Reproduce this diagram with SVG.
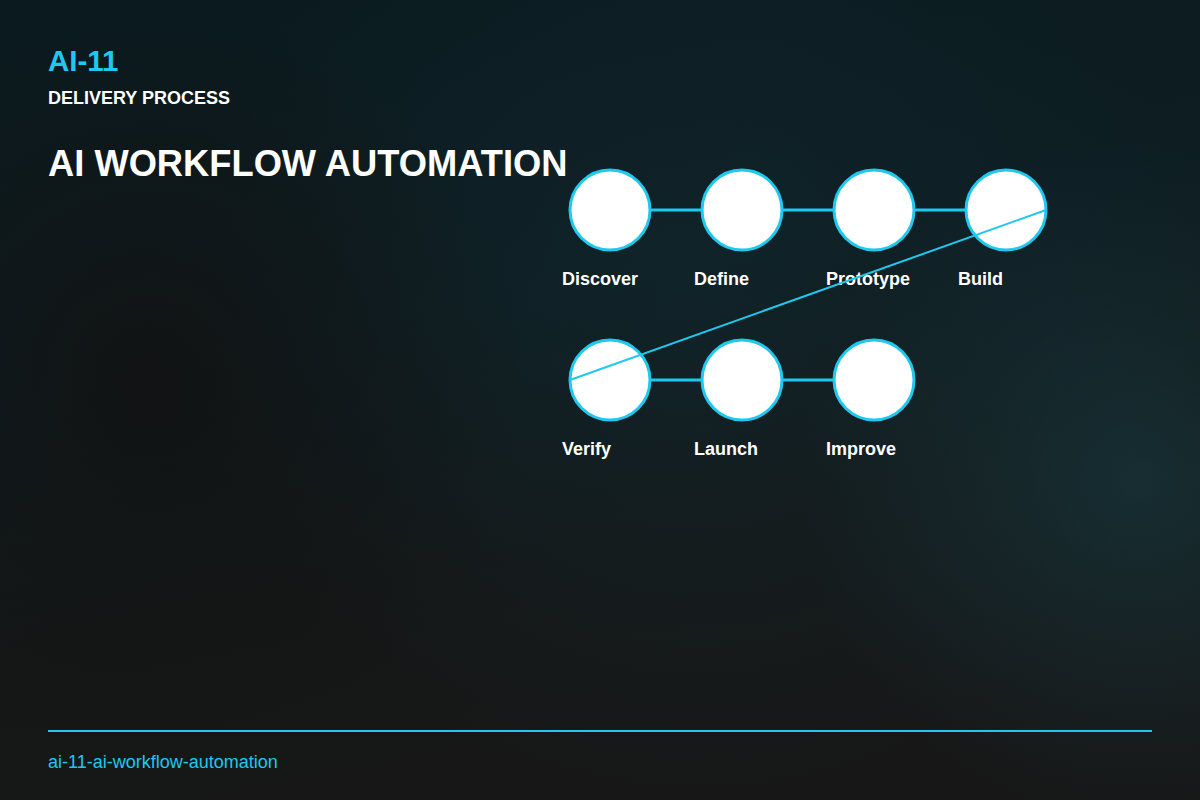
<svg xmlns="http://www.w3.org/2000/svg" width="1200" height="800" viewBox="0 0 1200 800">
<defs>
<linearGradient id="bg" x1="0" y1="0" x2="0.3" y2="1">
<stop offset="0" stop-color="#0a1a1f"/>
<stop offset="0.45" stop-color="#0d1d22"/>
<stop offset="0.75" stop-color="#151717"/>
<stop offset="1" stop-color="#171717"/>
</linearGradient>
<radialGradient id="glow1" cx="1140" cy="480" r="340" gradientUnits="userSpaceOnUse">
<stop offset="0" stop-color="#173c44" stop-opacity="0.6"/>
<stop offset="1" stop-color="#173c44" stop-opacity="0"/>
</radialGradient>
<radialGradient id="glow2" cx="700" cy="300" r="500" gradientUnits="userSpaceOnUse">
<stop offset="0" stop-color="#12282e" stop-opacity="0.6"/>
<stop offset="1" stop-color="#12282e" stop-opacity="0"/>
</radialGradient>
<radialGradient id="dark1" cx="150" cy="380" r="380" gradientUnits="userSpaceOnUse">
<stop offset="0" stop-color="#121212" stop-opacity="0.9"/>
<stop offset="1" stop-color="#121212" stop-opacity="0"/>
</radialGradient>
<style>
.node circle{fill:#ffffff;stroke:#1ec8ee;stroke-width:3}
.lbl{font-family:"Liberation Sans",Arial,sans-serif;font-weight:bold;font-size:18px;fill:#ffffff}
.conn line{stroke:#1ec8ee;stroke-width:3}
</style>
</defs>
<rect width="1200" height="800" fill="url(#bg)"/>
<rect width="1200" height="800" fill="url(#glow2)"/>
<rect width="1200" height="800" fill="url(#glow1)"/>
<rect width="1200" height="800" fill="url(#dark1)"/>

<text x="48" y="71" font-family="Liberation Sans,Arial,sans-serif" font-weight="bold" font-size="29.5" fill="#1ec8ee">AI-11</text>
<text x="48" y="104" font-family="Liberation Sans,Arial,sans-serif" font-weight="bold" font-size="18" fill="#ffffff">DELIVERY PROCESS</text>
<text x="48" y="176" font-family="Liberation Sans,Arial,sans-serif" font-weight="bold" font-size="36.3" fill="#ffffff">AI WORKFLOW AUTOMATION</text>

<g id="n1" class="node"><circle cx="610" cy="210" r="40"/><text class="lbl" x="562" y="285">Discover</text></g>
<g id="n2" class="node"><circle cx="742" cy="210" r="40"/><text class="lbl" x="694" y="285">Define</text></g>
<g id="n3" class="node"><circle cx="874" cy="210" r="40"/><text class="lbl" x="826" y="285">Prototype</text></g>
<g id="n4" class="node"><circle cx="1006" cy="210" r="40"/><text class="lbl" x="958" y="285">Build</text></g>
<g id="n5" class="node"><circle cx="610" cy="380" r="40"/><text class="lbl" x="562" y="455">Verify</text></g>
<g id="n6" class="node"><circle cx="742" cy="380" r="40"/><text class="lbl" x="694" y="455">Launch</text></g>
<g id="n7" class="node"><circle cx="874" cy="380" r="40"/><text class="lbl" x="826" y="455">Improve</text></g>

<g id="connectors" class="conn">
<line x1="650" y1="210" x2="702" y2="210"/>
<line x1="782" y1="210" x2="834" y2="210"/>
<line x1="914" y1="210" x2="966" y2="210"/>
<line x1="1046" y1="210" x2="570" y2="380" style="stroke-width:2"/>
<line x1="650" y1="380" x2="702" y2="380"/>
<line x1="782" y1="380" x2="834" y2="380"/>
</g>

<line x1="48" y1="731" x2="1152" y2="731" stroke="#1ec8ee" stroke-width="2"/>
<text x="48" y="768" font-family="Liberation Sans,Arial,sans-serif" font-size="18" fill="#1ec8ee">ai-11-ai-workflow-automation</text>
</svg>
